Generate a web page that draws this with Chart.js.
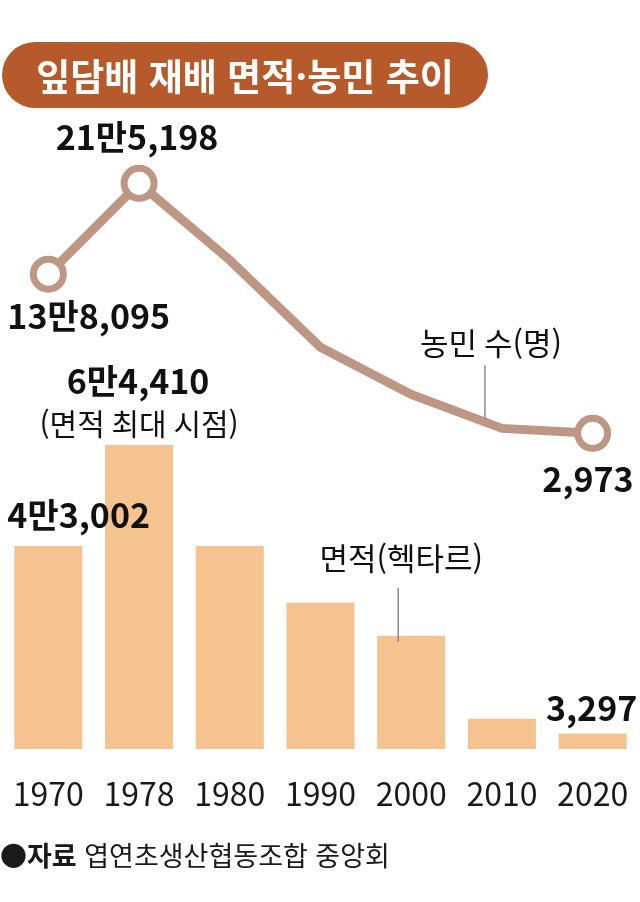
<!DOCTYPE html>
<html lang="ko">

<head>
    <meta charset="UTF-8">
    <title>잎담배 재배 면적·농민 추이</title>

    <style>
        body {
            margin: 0;
            background: #fff;
            font-family: "Noto Sans CJK KR", "Noto Sans", sans-serif;
        }

        .wrap {
            position: relative;
            width: 640px;
            height: 902px;
        }

        .title {
            position: absolute;
            left: 2px;
            top: 42px;
            width: 486px;
            height: 66px;
            border-radius: 33px;
            background: #b65a2b;
            color: #fff;
            font-weight: bold;
            font-size: 37px;
            line-height: 66px;
            text-align: center;
            z-index: 2;
        }

        .source {
            position: absolute;
            left: 0;
            top: 840px;
            font-size: 27px;
            line-height: 30px;
            color: #1a1a1a;
            z-index: 2;
        }

        .chart {
            position: absolute;
            left: 0;
            top: 0;
            width: 640px;
            height: 902px;
        }
    </style>
</head>

<body>
    <div class="wrap">
        <div class="title">잎담배 재배 면적·농민 추이</div>
        <div class="chart"><canvas id="tobacco"></canvas></div>
        <div class="source"><b>●자료</b> 엽연초생산협동조합 중앙회</div>
    </div>

    <script src="https://cdn.jsdelivr.net/npm/chart.js"></script>

    <script>
        // years on the x axis
        const years = ['1970', '1978', '1980', '1990', '2000', '2010', '2020'];

        // cultivated area (hectares), bars
        const area = [43002, 64410, 43000, 31000, 24000, 6400, 3297];

        // number of farmers, line
        const farmers = [138095, 215198, 150000, 76000, 36000, 7200, 2973];

        // value labels shown on the chart ('' = none)
        const areaLabels = ['4만3,002', '6만4,410', '', '', '', '', '3,297'];
        const farmerLabels = ['13만8,095', '21만5,198', '', '', '', '', '2,973'];

        const farmerName = '농민 수(명)';
        const areaName = '면적(헥타르)';
        const peakNote = '(면적 최대 시점)';

        const lineColor = '#bd9684';
        const barColor = '#f4c38f';
        const font = '"Noto Sans CJK KR", "Noto Sans", sans-serif';

        // draws the callouts next to the marks
        const notesPlugin = {
            id: 'notes',
            afterDatasetsDraw(chart) {
                const ctx = chart.ctx;
                const bars = chart.getDatasetMeta(0).data;
                const pts = chart.getDatasetMeta(1).data;

                function put(str, x, y, size, weight, align) {
                    ctx.font = weight + ' ' + size + 'px ' + font;
                    ctx.textAlign = align || 'center';
                    ctx.fillText(str, x, y);
                }

                function leader(x, y1, y2) {
                    ctx.beginPath();
                    ctx.moveTo(x, y1);
                    ctx.lineTo(x, y2);
                    ctx.stroke();
                }

                ctx.save();
                ctx.fillStyle = '#111';
                ctx.textBaseline = 'middle';
                ctx.strokeStyle = '#8a8a8a';
                ctx.lineWidth = 1.5;

                // farmers
                put(farmerLabels[0], pts[0].x - 41, pts[0].y + 42, 34, 'bold', 'left');
                put(farmerLabels[1], pts[1].x - 2, pts[1].y - 46, 34, 'bold');
                put(farmerLabels[6], pts[6].x + 41, pts[6].y + 46, 34, 'bold', 'right');
                put(farmerName, pts[5].x - 11, pts[5].y - 85, 31, 'normal');
                leader(pts[5].x - 17, pts[5].y - 63, pts[5].y - 10);

                // area
                put(areaLabels[0], bars[0].x - 41, bars[0].y - 31, 34, 'bold', 'left');
                put(areaLabels[1], bars[1].x - 1, bars[1].y - 64, 34, 'bold');
                put(peakNote, bars[1].x, bars[1].y - 21, 30, 'normal');
                put(areaLabels[6], bars[6].x - 1, bars[6].y - 25, 34, 'bold');
                put(areaName, bars[4].x - 10, bars[4].y - 78, 31, 'normal');
                leader(bars[4].x - 13, bars[4].y - 48, bars[4].y + 6);

                ctx.restore();
            }
        };

        const ctx = document.getElementById('tobacco').getContext('2d');
        const chart = new Chart(ctx, {
            data: {
                labels: years,
                datasets: [{
                    type: 'bar',
                    data: area,
                    backgroundColor: barColor,
                    borderWidth: 0,
                    barPercentage: 0.75,
                    categoryPercentage: 1,
                    yAxisID: 'y',
                    order: 1
                }, {
                    type: 'line',
                    data: farmers,
                    borderColor: lineColor,
                    borderWidth: 9,
                    tension: 0,
                    pointRadius: [15, 15, 0, 0, 0, 0, 15],
                    pointBorderWidth: 7,
                    pointBackgroundColor: '#fff',
                    pointBorderColor: lineColor,
                    yAxisID: 'y1',
                    order: 0
                }]
            },
            options: {
                responsive: true,
                maintainAspectRatio: false,
                animation: false,
                layout: {
                    autoPadding: false,
                    padding: { left: 3, right: 2, top: 120, bottom: 91 }
                },
                plugins: {
                    legend: { display: false },
                    tooltip: { enabled: false }
                },
                scales: {
                    x: {
                        grid: { display: false, drawTicks: false },
                        border: { display: false },
                        ticks: {
                            color: '#1a1a1a',
                            padding: 26,
                            font: { family: font, size: 32 }
                        },
                        // keep the label band fixed so the plot area does not shrink
                        afterFit(scale) {
                            scale.height = 62;
                            scale.paddingLeft = 0;
                            scale.paddingRight = 0;
                        }
                    },
                    y: {
                        display: false,
                        min: 0,
                        max: 133300
                    },
                    y1: {
                        display: false,
                        min: -265000,
                        max: 269000
                    }
                }
            },
            plugins: [notesPlugin]
        });
    </script>
</body>

</html>
